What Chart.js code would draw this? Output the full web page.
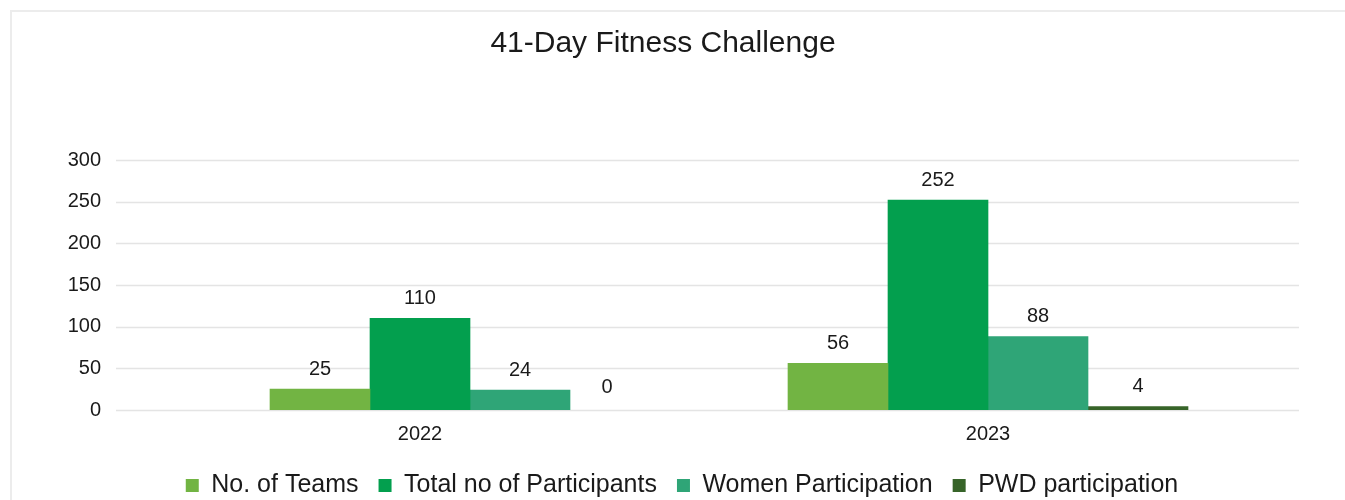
<!DOCTYPE html>
<html>
<head>
<meta charset="utf-8">
<script src="https://cdn.jsdelivr.net/npm/chart.js@4"></script>
<style>
  html, body { margin: 0; padding: 0; background: #fff; overflow: hidden; }
  #frame { position: absolute; left: 10px; top: 10px; width: 1400px; height: 600px; border: 2px solid #ececec; }
  #chart { position: absolute; left: 0; top: 0; }
</style>
</head>
<body>
<div id="frame"></div>
<canvas id="chart" width="1345" height="500"></canvas>
<script>
// Data
const years = ['2022', '2023'];
const teams = [25, 56];
const participants = [110, 252];
const women = [24, 88];
const pwd = [0, 4];
const seriesNames = ['No. of Teams', 'Total no of Participants', 'Women Participation', 'PWD participation'];
const seriesColors = ['#72b443', '#039f4e', '#2fa577', '#376429'];

const FONT = '"Liberation Sans", Arial, sans-serif';
const allData = [teams, participants, women, pwd];

// light gridlines that run a bit past the plot area, like the original
const gridPlugin = {
  id: 'wideGrid',
  beforeDatasetsDraw(chart) {
    const y = chart.scales.y;
    const c = chart.ctx;
    c.save();
    c.strokeStyle = '#e4e4e4';
    c.lineWidth = 1.5;
    y.ticks.forEach(t => {
      const py = Math.round(y.getPixelForValue(t.value)) + 0.5;
      c.beginPath();
      c.moveTo(116, py);
      c.lineTo(1299, py);
      c.stroke();
    });
    c.restore();
  }
};

// nudge the legend a little right, where the original has it
const legendShift = {
  id: 'legendShift',
  afterLayout(chart) {
    chart.legend.left += 19;
    chart.legend.right += 19;
  }
};

// value labels above each bar (a zero bar gets its label in the next slot)
const valueLabels = {
  id: 'valueLabels',
  afterDatasetsDraw(chart) {
    const c = chart.ctx;
    const zeroY = chart.scales.y.getPixelForValue(0);
    c.save();
    c.font = '20px ' + FONT;
    c.fillStyle = '#1a1a1a';
    c.textAlign = 'center';
    c.textBaseline = 'middle';
    allData.forEach((d, i) => {
      const meta = chart.getDatasetMeta(i);
      d.forEach((v, j) => {
        const bar = meta.data[j];
        if (bar && !isNaN(bar.x) && d[j] !== 0) {
          c.fillText(v, bar.x, bar.y - 20);
        } else if (i > 0) {
          const prev = chart.getDatasetMeta(i - 1).data[j];
          c.fillText(v, prev.x + prev.width - 13, zeroY - 23);
        }
      });
    });
    c.restore();
  }
};

new Chart(document.getElementById('chart'), {
  type: 'bar',
  data: {
    labels: years,
    datasets: allData.map((d, i) => ({
      label: seriesNames[i],
      data: d.map(v => (v === 0 ? null : v)),
      backgroundColor: seriesColors[i],
      borderWidth: 0,
      barThickness: 100,
      skipNull: true
    }))
  },
  options: {
    responsive: false,
    animation: false,
    layout: { padding: { left: 54, right: 73, top: 0, bottom: -8 } },
    scales: {
      x: {
        grid: { display: false, drawTicks: false },
        border: { display: false },
        ticks: { color: '#1a1a1a', font: { family: FONT, size: 20 }, padding: 12 },
        afterFit: s => { s.height = 43; }
      },
      y: {
        min: 0,
        max: 300,
        grid: { display: false, drawTicks: false },
        border: { display: false },
        ticks: { stepSize: 50, color: '#1a1a1a', font: { family: FONT, size: 20 }, padding: 35 },
        afterFit: s => { s.width = 82; }
      }
    },
    plugins: {
      title: {
        display: true,
        text: '41-Day Fitness Challenge',
        color: '#1a1a1a',
        font: { family: FONT, size: 30, weight: 'normal' },
        padding: { top: 26, bottom: 98 }
      },
      legend: {
        position: 'bottom',
        labels: {
          color: '#1a1a1a',
          font: { family: FONT, size: 25 },
          boxWidth: 13,
          boxHeight: 13,
          padding: 20
        }
      },
      tooltip: { enabled: false }
    }
  },
  plugins: [gridPlugin, legendShift, valueLabels]
});
</script>
</body>
</html>
